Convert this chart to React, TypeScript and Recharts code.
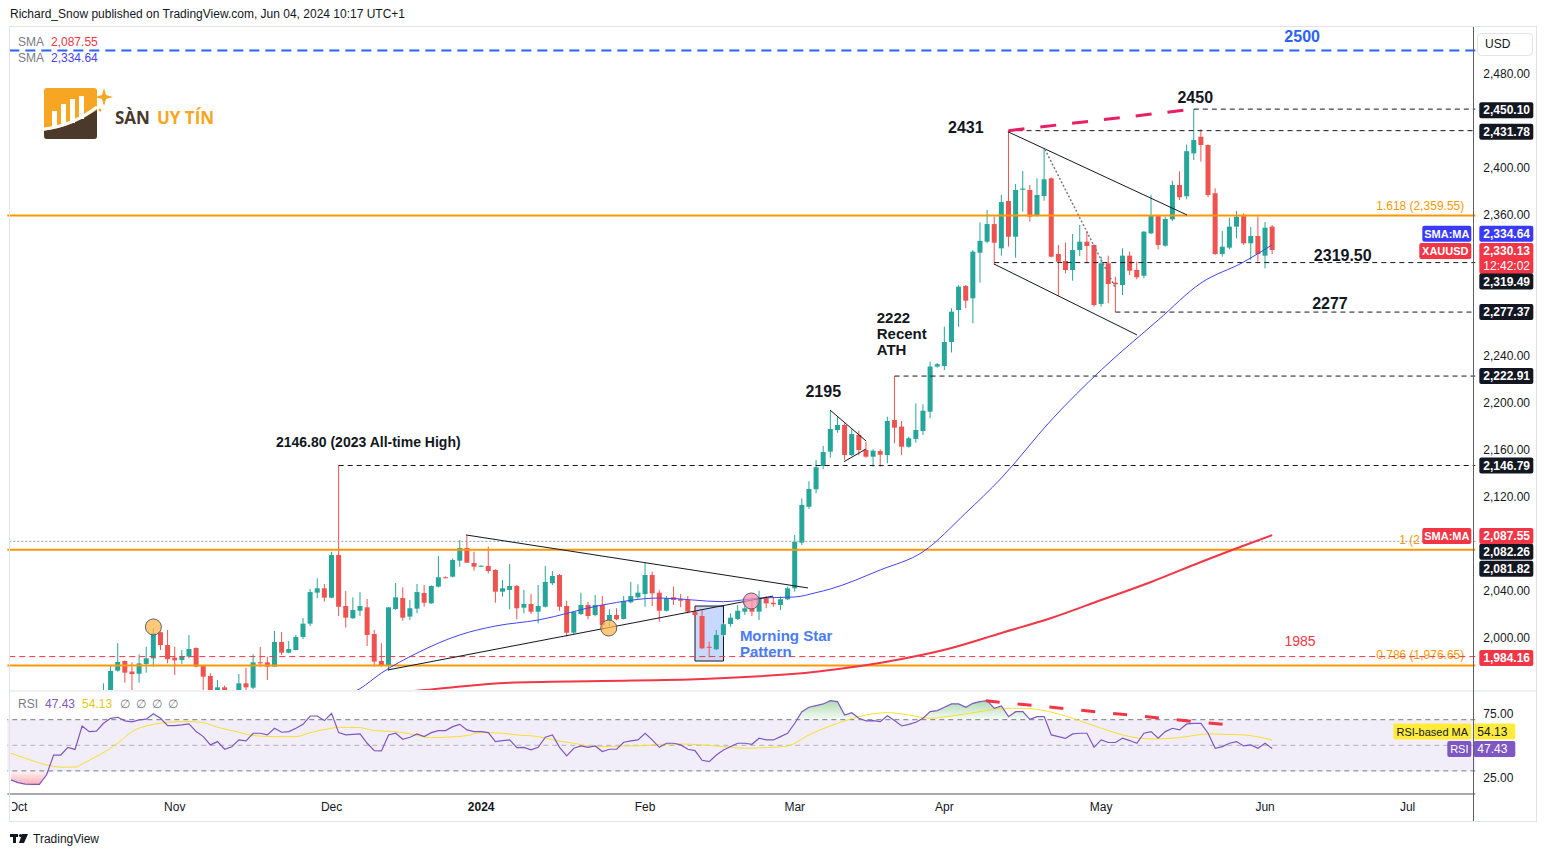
import React from 'react';
import {
  Area,
  Bar,
  ComposedChart,
  Line,
  ReferenceArea,
  ReferenceDot,
  ReferenceLine,
  XAxis,
  YAxis,
} from 'recharts';

const FONT = '"Liberation Sans", Arial, sans-serif';
const UP = '#26a69a';
const DOWN = '#ef5350';
const INK = '#131722';
const ORANGE = '#ff9800';
const RED = '#f23645';
const BLUE_SMA = '#4343f2';

const W = 1546;
const PLOT_L = 7.31;
const PLOT_R = 1475.31;
const AXIS_W = 62;
const X_END = 204.5;

// bar index -1 = Fri 29 Sep 2023, 0 = Mon 2 Oct ... 176 = Tue 4 Jun 2024 (one bar per weekday)
const FIRST = -1;
const LAST = 204;

// [open, high, low, close] from bar -1 to bar 176
const candles: number[][] = [
  [1866, 1879, 1846, 1849], [1849, 1853, 1827, 1828], [1828, 1832, 1815, 1822], [1822, 1826, 1816, 1821],
  [1821, 1825, 1813, 1820], [1820, 1835, 1810, 1832], [1832, 1865, 1832, 1862], [1862, 1866, 1855, 1861],
  [1861, 1875, 1857, 1874], [1874, 1880, 1866, 1868], [1868, 1933, 1867, 1932], [1932, 1937, 1908, 1920],
  [1920, 1933, 1912, 1923], [1923, 1961.4, 1923, 1947], [1947, 1976.4, 1945, 1971.9], [1972.2, 1995.5, 1971.3, 1979.6],
  [1980.4, 1981, 1962, 1970.5], [1971.5, 1979.3, 1950, 1969.3], [1969.6, 1986, 1962, 1978.4], [1977.9, 1992.6, 1970.5, 1982.7],
  [1982.7, 2008.3, 1975.6, 2004], [2004.9, 2005.5, 1989.8, 1994], [1994, 2006.8, 1978.4, 1981.9], [1983.3, 1992.6, 1968.5, 1981],
  [1981.3, 1989.8, 1977.9, 1984.7], [1984.1, 2002.6, 1982.7, 1990.6], [1991.5, 1992, 1975, 1975.6], [1976.2, 1977, 1950, 1967.1],
  [1967.7, 1970, 1947, 1950], [1950, 1964.3, 1945, 1958], [1958, 1959.4, 1931, 1940], [1940, 1948, 1932, 1946],
  [1946, 1969.4, 1945, 1961.4], [1961.4, 1974.7, 1954, 1958], [1957.7, 1986, 1956.6, 1979.3], [1979.3, 1992.3, 1975.6, 1978.4],
  [1979.3, 1984.1, 1964.3, 1975.6], [1975.6, 2006, 1975.6, 1996.6], [1996.6, 2005.1, 1985.5, 1987.5], [1987.5, 1997.4, 1987, 1990.6],
  [1989.8, 2002.6, 1989.5, 2000.9], [2000.9, 2017, 1999, 2012.2], [2012.2, 2041.7, 2010.2, 2039.1], [2038.6, 2050.8, 2033.8, 2042.3],
  [2042.3, 2046, 2031, 2034.3], [2034.3, 2073.4, 2033.8, 2070.6], [2070.6, 2146.8, 2018.7, 2026.6], [2027.2, 2040, 2008.8, 2017.3],
  [2016.8, 2034.6, 2016.2, 2023.8], [2023.2, 2039.1, 2018.7, 2027.2], [2026.1, 2033.2, 1993.2, 2002.6], [2003.4, 2006.8, 1975.6, 1979.9],
  [1980.4, 1995.5, 1975.6, 1977], [1977, 2026.1, 1972.2, 2026.1], [2024.7, 2046.8, 2023.8, 2034.6], [2034, 2043.1, 2014.7, 2017.3],
  [2018.2, 2032.3, 2015.3, 2025.3], [2025, 2046, 2021, 2039.1], [2038.3, 2045.1, 2026.6, 2030], [2029.5, 2044.8, 2029, 2044.3],
  [2043.7, 2069.8, 2043, 2051.7], [2051.7, 2052.5, 2051, 2051.2], [2052.2, 2067.8, 2051.5, 2066.4], [2065.8, 2083.4, 2060.7, 2076.6],
  [2076.6, 2087.4, 2064, 2064.1], [2063.8, 2073.4, 2057.3, 2060.7], [2061, 2062, 2060.5, 2061.5], [2061.3, 2077.7, 2055, 2057],
  [2057.9, 2058.5, 2030, 2039.4], [2039.4, 2049.4, 2035.2, 2042.3], [2040.9, 2063, 2024.4, 2044.3], [2044.3, 2045, 2015.9, 2025.3],
  [2025.8, 2040.9, 2021, 2028.9], [2028.9, 2037.4, 2020.4, 2022.4], [2022.4, 2045.1, 2012.5, 2027.2], [2026.6, 2061.3, 2026, 2047.7],
  [2046.6, 2057, 2045.1, 2052.8], [2053.6, 2054.5, 2023.2, 2026.6], [2027.2, 2031.7, 2001.1, 2004.5], [2004.5, 2022.5, 2003.5, 2022.1],
  [2020.4, 2038.6, 2019.6, 2028.1], [2028.1, 2030.6, 2015.9, 2018.7], [2019.6, 2036.6, 2018.5, 2028.1], [2028.1, 2035.7, 2006.8, 2011],
  [2015.3, 2024.4, 2010.2, 2019.6], [2019.6, 2025.3, 2015, 2015.9], [2016.2, 2035.7, 2015.8, 2031.5], [2030.4, 2047.7, 2029.5, 2035.7],
  [2034.6, 2045.7, 2033.5, 2038.6], [2037.4, 2064.1, 2026.6, 2053.6], [2053.6, 2056.4, 2027.2, 2038], [2038.6, 2040.9, 2013.9, 2023.2],
  [2023.2, 2035.7, 2022.5, 2033.8], [2034.6, 2043.7, 2028.1, 2032.3], [2033.2, 2037.4, 2026.1, 2031.7], [2032.3, 2035.7, 2021, 2022.4],
  [2022.4, 2026.6, 2018.2, 2019.6], [2018.7, 2023.8, 1990.5, 1991.2], [1992.5, 1996.9, 1983.6, 1991.6], [1990.4, 2006.8, 1989.8, 2002.6],
  [2002.6, 2012.5, 2001.1, 2011.7], [2011.9, 2021, 2009.6, 2017.3], [2016.2, 2028.1, 2015.3, 2023.2], [2022.4, 2033.8, 2019.6, 2025.3],
  [2025.3, 2033.8, 2018.7, 2022.4], [2022.4, 2040.3, 2015.3, 2033.8], [2033.8, 2035.7, 2025.3, 2029.5], [2030, 2035.2, 2026.6, 2028.7],
  [2028.1, 2035.2, 2023.8, 2032.9], [2032.9, 2043.7, 2032.3, 2042.3], [2042.3, 2087.7, 2039.4, 2082], [2081.1, 2118.9, 2079.1, 2113.2],
  [2111.7, 2133.4, 2109.8, 2126.8], [2126.6, 2151.5, 2123.1, 2145.3], [2146.4, 2163.4, 2143.6, 2158.3], [2158.6, 2194, 2153.4, 2177.9],
  [2177, 2188.9, 2174.7, 2181.3], [2181.3, 2182.7, 2151.5, 2155.7], [2155.7, 2177.6, 2154.9, 2173.6], [2172.8, 2176.4, 2155.7, 2160],
  [2160, 2167.1, 2153.5, 2154.3], [2154.3, 2160.6, 2145.8, 2159.4], [2159.1, 2160.6, 2145.8, 2156], [2155.7, 2188.4, 2148.7, 2184.7],
  [2185.5, 2222.9, 2165.7, 2179], [2179.9, 2184.7, 2155.7, 2162.8], [2162.8, 2171.3, 2162, 2170], [2169.4, 2199.7, 2166.2, 2177],
  [2176.2, 2199, 2172.8, 2193.4], [2192.6, 2235.2, 2187, 2231], [2231, 2234, 2230, 2233], [2231.5, 2264.9, 2228, 2251.9],
  [2251.9, 2280.6, 2243, 2277.7], [2279.1, 2300.4, 2264.9, 2299], [2299.6, 2300.4, 2280.6, 2287.1], [2289.1, 2330.2, 2267.8, 2328.8],
  [2327.9, 2353.8, 2302.4, 2338], [2337.3, 2364.3, 2335.9, 2352.3], [2352.3, 2358.6, 2317.4, 2336.4], [2331.6, 2377, 2325.4, 2371],
  [2371.9, 2431.8, 2333, 2341.5], [2341.5, 2386.4, 2323.7, 2381.3], [2381.5, 2397.4, 2362.8, 2382.5], [2381.3, 2385.5, 2354.3, 2358.6],
  [2359.1, 2391.2, 2358.5, 2377], [2376.2, 2416.8, 2372.2, 2390.4], [2391.2, 2392, 2324, 2324.5], [2326.8, 2334.5, 2291.1, 2320.3],
  [2320.9, 2336.4, 2310.4, 2313.2], [2313.2, 2343.8, 2304.1, 2330.2], [2330.2, 2351.5, 2325.1, 2337.3], [2337.3, 2345.8, 2318.9, 2333.6],
  [2334.5, 2335, 2282, 2283.4], [2284.3, 2324.5, 2282, 2318.9], [2318.9, 2325.4, 2284.9, 2301.3], [2302.4, 2307.5, 2277.4, 2301],
  [2300.4, 2331.6, 2291.9, 2325.4], [2325.4, 2328.8, 2308.9, 2312.6], [2313.2, 2320.3, 2305.3, 2307], [2308.3, 2346.5, 2306.1, 2345.8],
  [2344.4, 2377.2, 2343.8, 2359.1], [2359.1, 2359.5, 2330.8, 2334.5], [2333.9, 2358.6, 2333, 2356.6], [2356.3, 2389.2, 2354.9, 2385.5],
  [2385.5, 2397.1, 2372.8, 2375.1], [2376, 2420, 2373.4, 2414.3], [2412.5, 2450.1, 2406.8, 2423.8], [2426.6, 2432.9, 2405.4, 2419.6],
  [2419.6, 2420, 2375.1, 2377], [2378.5, 2382.7, 2326, 2326.8], [2326.8, 2346.4, 2324.5, 2333], [2332.2, 2357.7, 2330.8, 2350.1],
  [2350.1, 2363.4, 2340.2, 2358.6], [2359.1, 2361.4, 2334.5, 2335.9], [2335.9, 2349.8, 2321.7, 2342.1], [2342.1, 2358.6, 2320.3, 2326.8],
  [2325.4, 2354, 2314.6, 2349.2], [2350.1, 2351.5, 2326.8, 2330.13],
];

// RSI(14) from bar -1 to bar 176
const rsi = [
  23, 20.8, 19.7, 19.5, 19.4, 26.8, 42.4, 42.4, 48.4, 46.8, 65.1, 60.7, 61, 67.2, 71.1, 71.9, 69.1, 68.3, 69.9, 70.4,
  74.6, 71.1, 65.4, 65.4, 65.9, 66.7, 60.7, 56.8, 50.3, 52.9, 46.9, 48.9, 54.2, 53.4, 59.4, 59.4, 58.1, 63.3, 60.2, 60.7,
  63.3, 66.4, 72.9, 72.9, 69.3, 75, 59.9, 58.1, 58.6, 58.9, 51.6, 45.9, 45.6, 58.1, 59.4, 54.7, 56.3, 58.9, 56.8, 59.9,
  61.5, 61.5, 64.6, 66.4, 62, 60.7, 60.7, 59.9, 52.9, 53.6, 54.2, 48.2, 48.4, 46.4, 48.4, 56.3, 58.1, 48.4, 41.7, 47.7,
  49.5, 48.4, 49.5, 45.1, 46.9, 46.9, 52.4, 53.4, 54.2, 59.4, 54.2, 48.4, 51.6, 51.6, 50.3, 46.9, 45.9, 38.3, 37.2, 42.4,
  46.4, 49, 51.6, 51.6, 50.8, 55.5, 54.2, 54.2, 56.8, 59.4, 67.2, 76.3, 79.7, 81, 82.3, 84.9, 84.1, 73.7, 75.5, 71.1,
  69.1, 69.3, 68.5, 73, 69.3, 65.1, 66.4, 68, 71.1, 76.3, 77.1, 79.7, 82.3, 82.3, 79.7, 82.8, 84.1, 84.9, 78.9, 80.7,
  72.4, 76.3, 76.3, 70.3, 72.4, 72.4, 58.1, 56.8, 55.5, 58.9, 59.4, 59.4, 48.4, 54.2, 52.2, 52.2, 55.5, 53.7, 51.6, 59.4,
  60.7, 55.5, 60.7, 63.3, 62, 66.7, 67.2, 67.2, 59.4, 47.7, 49, 51.6, 52.9, 49.5, 50.3, 47.7, 51.6, 47.43,
];

// RSI-based MA, read at these bars [bar, value]
const rsiMaPoints = [
  [-1, 43.8], [1, 39.9], [4, 34.7], [6, 32.9], [8, 32.9], [9, 35.5], [11, 41.2], [14, 51.6], [16, 60.7], [19, 66.4],
  [21, 68], [24, 68.5], [26, 67.7], [28, 64.1], [31, 60.2], [33, 57.6], [36, 56.8], [39, 56.8], [41, 59.9], [44, 63.3],
  [45, 64.1], [48, 63.8], [50, 61.5], [53, 60.7], [55, 58.9], [58, 56], [60, 56.3], [63, 57.6], [65, 59.9], [68, 59.4],
  [70, 58.1], [73, 56.8], [75, 54.2], [78, 51.6], [80, 49.5], [83, 49], [85, 49.5], [88, 49.7], [90, 50.8], [93, 51],
  [96, 50.3], [99, 49], [102, 47.7], [105, 48.2], [108, 49.5], [111, 58.1], [115, 67.2], [118, 72.4], [122, 75.5], [125, 73.7],
  [128, 71.1], [131, 72.9], [135, 76.3], [138, 78.9], [141, 78.9], [144, 77.1], [147, 72.9], [150, 67.2], [153, 61.5], [156, 56.8],
  [159, 55], [162, 55.5], [164, 56.8], [167, 58.9], [169, 58.6], [172, 58.1], [176, 54.13],
];

// 50-day SMA (blue), read at these bars
const sma50Points = [
  [-1, 1898], [15, 1912], [30, 1928], [40, 1938], [44, 1946], [48, 1956.9], [51, 1970.2], [56, 1987.2], [62, 2002.6],
  [67, 2010.2], [73, 2015.3], [82, 2028.1], [90, 2034], [99, 2030.9], [104, 2034], [109, 2034.9], [112, 2038.6],
  [114, 2041.7], [121, 2057.9], [127, 2073.4], [133, 2106.4], [138, 2136.2], [145, 2185.5], [152, 2228.1],
  [160, 2270.6], [166, 2302.1], [172, 2320], [176, 2334.64],
];

// 200-day SMA (red), read at these bars
const sma200Points = [
  [-1, 1922], [30, 1940], [57, 1955.7], [69, 1962], [82, 1963.4], [96, 1965.1], [112, 1971.3], [124, 1982.1],
  [131, 1991.5], [138, 2004.3], [145, 2017], [152, 2032.3], [159, 2047.7], [166, 2064.7], [173, 2080.9], [176, 2087.55],
];

const monthTickIndex = [0, 22, 44, 65, 88, 109, 130, 152, 175, 195];
const monthTickLabel = ['Oct', 'Nov', 'Dec', '2024', 'Feb', 'Mar', 'Apr', 'May', 'Jun', 'Jul'];
const priceTicks = [1960, 2000, 2040, 2120, 2160, 2200, 2240, 2360, 2400, 2480];

const toMap = (pts: number[][]) => new Map(pts.map(([i, v]) => [i, v]));
const maMap = toMap(rsiMaPoints);
const s50Map = toMap(sma50Points);
const s200Map = toMap(sma200Points);

const rows: any[] = [];
for (let i = FIRST; i <= LAST; i++) {
  const k = i - FIRST;
  const cd = candles[k];
  const r = rsi[k];
  const prev = rsi[k - 1];
  const next = rsi[k + 1];
  const nearOb = r != null && (r > 70 || (prev != null && prev > 70) || (next != null && next > 70));
  const nearOs = r != null && (r < 30 || (prev != null && prev < 30) || (next != null && next < 30));
  rows.push({
    i,
    range: cd ? [cd[2], cd[1]] : null,
    o: cd ? cd[0] : null,
    h: cd ? cd[1] : null,
    l: cd ? cd[2] : null,
    c: cd ? cd[3] : null,
    rsi: r ?? null,
    ob: nearOb ? [70, Math.max(70, r)] : null,
    os: nearOs ? [Math.min(30, r), 30] : null,
    rsiMa: maMap.get(i) ?? null,
    sma50: s50Map.get(i) ?? null,
    sma200: s200Map.get(i) ?? null,
  });
}

const Candle = (props: any) => {
  const { x, y, width, height, payload } = props;
  if (!payload || payload.h == null || !height) return null;
  const { o, h, l, c } = payload;
  const ppu = h === l ? 0 : height / (h - l);
  const cx = x + width / 2;
  const col = c >= o ? UP : DOWN;
  const top = y + (h - Math.max(o, c)) * ppu;
  const bot = y + (h - Math.min(o, c)) * ppu;
  return (
    <g>
      <line x1={cx} x2={cx} y1={y} y2={y + height} stroke={col} strokeWidth={1} />
      <rect x={x} y={top} width={width} height={Math.max(1, bot - top)} fill={col} />
    </g>
  );
};

type TagProps = {
  viewBox?: any;
  text: string;
  bg: string;
  fg?: string;
  dy?: number;
  side?: string;
  sideW?: number;
  sub?: string;
  gap?: number;
  w?: number;
  bold?: boolean;
};

const AxisTag = ({ viewBox, text, bg, fg = '#fff', dy = 0, side, sideW = 52, sub, gap = 4, w = 54, bold = true }: TagProps) => {
  if (!viewBox) return null;
  const yc = viewBox.y + dy;
  const x0 = PLOT_R + gap;
  return (
    <g fontFamily={FONT}>
      {side && (
        <g>
          <rect x={PLOT_R - 4 - sideW} y={yc - 8} width={sideW} height={16} rx={2} fill={bg} />
          <text x={PLOT_R - 4 - sideW / 2} y={yc + 4} textAnchor="middle" fontSize={11} fontWeight={bold ? 'bold' : 'normal'} fill={fg}>
            {side}
          </text>
        </g>
      )}
      <rect x={x0} y={yc - 8} width={w} height={sub ? 31 : 16} rx={2} fill={bg} />
      <text x={x0 + 4} y={yc + 4} fontSize={12} fontWeight={bold ? 'bold' : 'normal'} fill={fg}>
        {text}
      </text>
      {sub && (
        <text x={x0 + 4} y={yc + 19} fontSize={12} fill={fg}>
          {sub}
        </text>
      )}
    </g>
  );
};

const FibLabel = ({ viewBox, text, start }: any) =>
  viewBox ? (
    <text
      x={start ? PLOT_R - 76 : PLOT_R - 11}
      y={viewBox.y - 6}
      textAnchor={start ? 'start' : 'end'}
      fontSize={12}
      fontFamily={FONT}
      fill={ORANGE}
    >
      {text}
    </text>
  ) : null;

const note =
  (lines: string[], size: number, color: string, anchor: 'start' | 'middle', weight = 'bold', lh = 16) =>
  (p: any) => (
    <text x={p.cx} y={p.cy} fontFamily={FONT} fontSize={size} fontWeight={weight} fill={color} textAnchor={anchor}>
      {lines.map((t, k) => (
        <tspan key={k} x={p.cx} dy={k === 0 ? '0.35em' : lh}>
          {t}
        </tspan>
      ))}
    </text>
  );

const MonthTick = (props: any) => {
  const { x, y, payload } = props;
  const k = monthTickIndex.indexOf(payload.value);
  if (k < 0) return null;
  const label = monthTickLabel[k];
  return (
    <text x={x} y={y} dy="0.71em" textAnchor="middle" fontSize={12} fontFamily={FONT} fill={INK} fontWeight={label === '2024' ? 'bold' : 'normal'}>
      {label}
    </text>
  );
};

const fmt = (v: number) => v.toLocaleString('en-US', { minimumFractionDigits: 2, maximumFractionDigits: 2 });

const dashed = { stroke: INK, strokeDasharray: '5 4', strokeWidth: 1 };
const trend = { stroke: INK, strokeWidth: 1 };

const PriceChart = () => (
  <ComposedChart width={W} height={692} data={rows} margin={{ top: 27, right: W - PLOT_R - AXIS_W, bottom: 2, left: PLOT_L }}>
    <XAxis dataKey="i" hide />
    <XAxis xAxisId="n" dataKey="i" type="number" domain={[-1.5, X_END]} allowDataOverflow hide />
    <YAxis
      orientation="right"
      width={AXIS_W}
      type="number"
      domain={[1955.74, 2520]}
      allowDataOverflow
      ticks={priceTicks}
      tickFormatter={fmt}
      tick={{ fill: INK, fontSize: 12, fontFamily: FONT }}
      tickLine={false}
      axisLine={false}
    />

    <ReferenceLine y={2500} stroke="#2962ff" strokeWidth={2} strokeDasharray="10 6" />
    <ReferenceLine y={2359.55} stroke={ORANGE} strokeWidth={2} label={<FibLabel text="1.618 (2,359.55)" />} />
    <ReferenceLine y={2075.14} stroke={ORANGE} strokeWidth={2} label={<FibLabel text="1 (2" start />} />
    <ReferenceLine y={1976.65} stroke={ORANGE} strokeWidth={2} label={<FibLabel text="0.786 (1,976.65)" />} />
    <ReferenceLine y={2082.26} stroke="#9598a1" strokeDasharray="2 2" />
    <ReferenceLine y={1984.16} stroke={RED} strokeDasharray="6 4" />

    <ReferenceLine xAxisId="n" segment={[{ x: 165, y: 2450.1 }, { x: X_END, y: 2450.1 }]} {...dashed} />
    <ReferenceLine xAxisId="n" segment={[{ x: 139, y: 2431.78 }, { x: X_END, y: 2431.78 }]} {...dashed} />
    <ReferenceLine xAxisId="n" segment={[{ x: 137, y: 2319.5 }, { x: X_END, y: 2319.5 }]} {...dashed} />
    <ReferenceLine xAxisId="n" segment={[{ x: 154, y: 2277.37 }, { x: X_END, y: 2277.37 }]} {...dashed} />
    <ReferenceLine xAxisId="n" segment={[{ x: 123, y: 2222.91 }, { x: X_END, y: 2222.91 }]} {...dashed} />
    <ReferenceLine xAxisId="n" segment={[{ x: 45, y: 2146.79 }, { x: X_END, y: 2146.79 }]} {...dashed} />

    <Bar dataKey="range" barSize={5} shape={(p: any) => <Candle {...p} />} isAnimationActive={false} />

    <Line dataKey="sma200" type="monotone" stroke={RED} strokeWidth={2} dot={false} connectNulls isAnimationActive={false} />
    <Line dataKey="sma50" type="monotone" stroke={BLUE_SMA} strokeWidth={1} dot={false} connectNulls isAnimationActive={false} />

    <ReferenceLine xAxisId="n" segment={[{ x: 62.87, y: 2087.7 }, { x: 110.86, y: 2042.6 }]} {...trend} />
    <ReferenceLine xAxisId="n" segment={[{ x: 51.9, y: 1972.8 }, { x: 105.95, y: 2035.7 }]} {...trend} />
    <ReferenceLine xAxisId="n" segment={[{ x: 113.95, y: 2194 }, { x: 119, y: 2167.7 }]} {...trend} />
    <ReferenceLine xAxisId="n" segment={[{ x: 115.9, y: 2150 }, { x: 119, y: 2160.9 }]} {...trend} />
    <ReferenceLine xAxisId="n" segment={[{ x: 138.9, y: 2430.9 }, { x: 164.05, y: 2360 }]} {...trend} />
    <ReferenceLine xAxisId="n" segment={[{ x: 136.96, y: 2318.3 }, { x: 157.03, y: 2257.9 }]} {...trend} />
    <ReferenceLine xAxisId="n" segment={[{ x: 144.1, y: 2415.9 }, { x: 154, y: 2298 }]} stroke="#787b86" strokeWidth={1.5} strokeDasharray="2 2" />
    <ReferenceLine xAxisId="n" segment={[{ x: 139, y: 2431.78 }, { x: 165, y: 2450.1 }]} stroke="#e91e63" strokeWidth={3} strokeDasharray="16 16" />

    <ReferenceArea xAxisId="n" x1={95} x2={99} y1={1980.4} y2={2027.2} fill="#2962ff" fillOpacity={0.25} stroke={INK} strokeWidth={1} />
    <ReferenceDot xAxisId="n" x={19} y={2009.4} r={8} fill="#ffb74d" fillOpacity={0.75} stroke="#5d606b" strokeWidth={1} />
    <ReferenceDot xAxisId="n" x={82.9} y={2008.5} r={8} fill="#ffb74d" fillOpacity={0.75} stroke="#5d606b" strokeWidth={1} />
    <ReferenceDot xAxisId="n" x={102.9} y={2031.5} r={8} fill="#f48fb1" fillOpacity={0.75} stroke="#5d606b" strokeWidth={1} />

    <ReferenceDot xAxisId="n" x={180.2} y={2512.3} r={0} shape={note(['2500'], 16, '#2962ff', 'middle')} />
    <ReferenceDot xAxisId="n" x={165.2} y={2460.4} r={0} shape={note(['2450'], 16, INK, 'middle')} />
    <ReferenceDot xAxisId="n" x={133} y={2434.9} r={0} shape={note(['2431'], 16, INK, 'middle')} />
    <ReferenceDot xAxisId="n" x={185.9} y={2326} r={0} shape={note(['2319.50'], 16, INK, 'middle')} />
    <ReferenceDot xAxisId="n" x={184.1} y={2285.1} r={0} shape={note(['2277'], 16, INK, 'middle')} />
    <ReferenceDot xAxisId="n" x={120.5} y={2272.3} r={0} shape={note(['2222', 'Recent', 'ATH'], 15, INK, 'start')} />
    <ReferenceDot xAxisId="n" x={113} y={2210.2} r={0} shape={note(['2195'], 16, INK, 'middle')} />
    <ReferenceDot xAxisId="n" x={36.2} y={2166.8} r={0} shape={note(['2146.80 (2023 All-time High)'], 14, INK, 'start')} />
    <ReferenceDot xAxisId="n" x={101.3} y={2001.7} r={0} shape={note(['Morning Star', 'Pattern'], 15, '#4a7cf3', 'start')} />
    <ReferenceDot xAxisId="n" x={179.9} y={1997.4} r={0} shape={note(['1985'], 14, RED, 'middle', 'normal')} />

    <ReferenceLine y={2450.1} strokeWidth={0} label={<AxisTag text="2,450.10" bg={INK} dy={1} />} />
    <ReferenceLine y={2431.78} strokeWidth={0} label={<AxisTag text="2,431.78" bg={INK} dy={1} />} />
    <ReferenceLine y={2334.64} strokeWidth={0} label={<AxisTag text="2,334.64" bg="#3a3aff" dy={-11} side="SMA:MA" sideW={49} />} />
    <ReferenceLine y={2330.13} strokeWidth={0} label={<AxisTag text="2,330.13" bg={RED} dy={1} side="XAUUSD" sub="12:42:02" />} />
    <ReferenceLine y={2319.49} strokeWidth={0} label={<AxisTag text="2,319.49" bg={INK} dy={19} />} />
    <ReferenceLine y={2277.37} strokeWidth={0} label={<AxisTag text="2,277.37" bg={INK} />} />
    <ReferenceLine y={2222.91} strokeWidth={0} label={<AxisTag text="2,222.91" bg={INK} />} />
    <ReferenceLine y={2146.79} strokeWidth={0} label={<AxisTag text="2,146.79" bg={INK} />} />
    <ReferenceLine y={2082.26} strokeWidth={0} label={<AxisTag text="2,082.26" bg={INK} dy={10.5} />} />
    <ReferenceLine y={2081.82} strokeWidth={0} label={<AxisTag text="2,081.82" bg={INK} dy={27} />} />
    <ReferenceLine y={2087.55} strokeWidth={0} label={<AxisTag text="2,087.55" bg={RED} dy={1} side="SMA:MA" sideW={49} />} />
    <ReferenceLine y={1984.16} strokeWidth={0} label={<AxisTag text="1,984.16" bg={RED} dy={1.5} />} />
  </ComposedChart>
);

const RsiChart = () => (
  <ComposedChart width={W} height={130} data={rows} margin={{ top: 0, right: W - PLOT_R - AXIS_W, bottom: 0, left: PLOT_L }}>
    <defs>
      <linearGradient id="obFill" x1="0" y1="0" x2="0" y2="1">
        <stop offset="0%" stopColor="#4caf50" stopOpacity={0.45} />
        <stop offset="100%" stopColor="#4caf50" stopOpacity={0.05} />
      </linearGradient>
      <linearGradient id="osFill" x1="0" y1="0" x2="0" y2="1">
        <stop offset="0%" stopColor="#f23645" stopOpacity={0.05} />
        <stop offset="100%" stopColor="#f23645" stopOpacity={0.4} />
      </linearGradient>
    </defs>
    <XAxis
      dataKey="i"
      scale="band"
      ticks={monthTickIndex}
      interval={0}
      tick={(p: any) => <MonthTick {...p} />}
      tickLine={false}
      axisLine={{ stroke: '#50535e' }}
      height={28}
    />
    <XAxis xAxisId="n" dataKey="i" type="number" domain={[-1.5, X_END]} allowDataOverflow hide />
    <YAxis
      orientation="right"
      width={AXIS_W}
      type="number"
      domain={[11.95, 91.64]}
      allowDataOverflow
      ticks={[25, 75]}
      tickFormatter={(v: number) => v.toFixed(2)}
      tick={{ fill: INK, fontSize: 12, fontFamily: FONT }}
      tickLine={false}
      axisLine={false}
    />
    <ReferenceArea y1={30} y2={70} fill="#7e57c2" fillOpacity={0.1} stroke="none" />
    <ReferenceLine y={70} stroke="#787b86" strokeDasharray="5 4" />
    <ReferenceLine y={50} stroke="#9598a1" strokeDasharray="5 4" strokeOpacity={0.7} />
    <ReferenceLine y={30} stroke="#787b86" strokeDasharray="5 4" />

    <Area dataKey="ob" stroke="none" fill="url(#obFill)" fillOpacity={1} isAnimationActive={false} />
    <Area dataKey="os" stroke="none" fill="url(#osFill)" fillOpacity={1} isAnimationActive={false} />
    <Line dataKey="rsiMa" type="monotone" stroke="#f7de2f" strokeWidth={1} dot={false} connectNulls isAnimationActive={false} />
    <Line dataKey="rsi" type="linear" stroke="#7e57c2" strokeWidth={1.2} dot={false} isAnimationActive={false} />

    <ReferenceLine xAxisId="n" segment={[{ x: 135.8, y: 84.8 }, { x: 169.9, y: 65.9 }]} stroke="#f23645" strokeWidth={3} strokeDasharray="14 18" />

    <ReferenceLine
      y={54.13}
      strokeWidth={0}
      label={<AxisTag text="54.13" bg="#ffeb3b" fg={INK} dy={-8.5} side="RSI-based MA" sideW={78} gap={-2} w={42} bold={false} />}
    />
    <ReferenceLine
      y={47.43}
      strokeWidth={0}
      label={<AxisTag text="47.43" bg="#7e57c2" dy={0.5} side="RSI" sideW={24} gap={-2} w={42} bold={false} />}
    />
  </ComposedChart>
);

const Overlay = () => (
  <svg width={W} height={857} style={{ position: 'absolute', left: 0, top: 0, pointerEvents: 'none' }} fontFamily={FONT}>
    <text x={10} y={18} fontSize={12} fill={INK}>
      Richard_Snow published on TradingView.com, Jun 04, 2024 10:17 UTC+1
    </text>
    <rect x={0} y={795} width={12} height={26} fill="#fff" />
    <rect x={9.5} y={26.5} width={1527} height={795} fill="none" stroke="#e0e3eb" />
    <line x1={10} x2={1537} y1={691} y2={691} stroke="#e0e3eb" />
    <line x1={1473.5} x2={1473.5} y1={27} y2={821} stroke="#5d606b" />

    <text x={18} y={46} fontSize={12}>
      <tspan fill="#787b86">SMA</tspan>
      <tspan dx={7} fill={RED}>2,087.55</tspan>
    </text>
    <text x={18} y={62} fontSize={12}>
      <tspan fill="#787b86">SMA</tspan>
      <tspan dx={7} fill={BLUE_SMA}>2,334.64</tspan>
    </text>

    <rect x={1477.5} y={33.5} width={55} height={22} rx={4} fill="#fff" stroke="#e0e3eb" />
    <text x={1485} y={48} fontSize={12} fill={INK}>USD</text>

    <text x={18} y={708} fontSize={12}>
      <tspan fill="#787b86">RSI</tspan>
      <tspan dx={7} fill="#7e57c2">47.43</tspan>
      <tspan dx={7} fill="#e6c619">54.13</tspan>
      <tspan dx={8} fill="#787b86">∅</tspan>
      <tspan dx={6} fill="#787b86">∅</tspan>
      <tspan dx={6} fill="#787b86">∅</tspan>
      <tspan dx={6} fill="#787b86">∅</tspan>
    </text>

    <g>
      <rect x={44} y={88} width={53} height={51} rx={3} fill="#f6a623" />
      <path d="M44 131 Q72 127 97 110 L97 136 Q97 139 94 139 L47 139 Q44 139 44 136 Z" fill="#4b3a2b" />
      <rect x={52} y={111} width={5} height={17} fill="#fff" />
      <rect x={61} y={104} width={5} height={22} fill="#fff" />
      <rect x={70} y={99} width={5} height={24} fill="#fff" />
      <rect x={79} y={96} width={5} height={23} fill="#fff" />
      <path d="M44 129 Q72 126 97 107" stroke="#fff" strokeWidth={3} fill="none" />
      <path d="M104 88 L106 95 L113 97 L106 99 L104 106 L102 99 L95 97 L102 95 Z" fill="#f6a623" />
      <circle cx={100} cy={110} r={1.5} fill="#f6a623" />
    </g>
    <text x={115} y={124} fontSize={17} fontWeight="bold" fontFamily='"Open Sans", sans-serif' fill="#4b3a2b">
      SÀN
    </text>
    <text x={157} y={124} fontSize={17} fontWeight="bold" fontFamily='"Open Sans", sans-serif' fill="#f6a623">
      UY TÍN
    </text>

    <g fill={INK}>
      <rect x={10} y={834} width={8} height={3} />
      <rect x={13} y={834} width={3} height={9} />
      <circle cx={20.5} cy={835.5} r={1.6} />
      <polygon points="22,834 28,834 24,843 19,843" />
    </g>
    <text x={33} y={843} fontSize={12} fill={INK}>
      TradingView
    </text>
  </svg>
);

export default function App() {
  return (
    <div style={{ position: 'absolute', left: 0, top: 0, width: W, height: 857, background: '#fff', fontFamily: FONT }}>
      <div style={{ position: 'absolute', left: 0, top: 0 }}>
        <PriceChart />
      </div>
      <div style={{ position: 'absolute', left: 0, top: 692 }}>
        <RsiChart />
      </div>
      <Overlay />
    </div>
  );
}
